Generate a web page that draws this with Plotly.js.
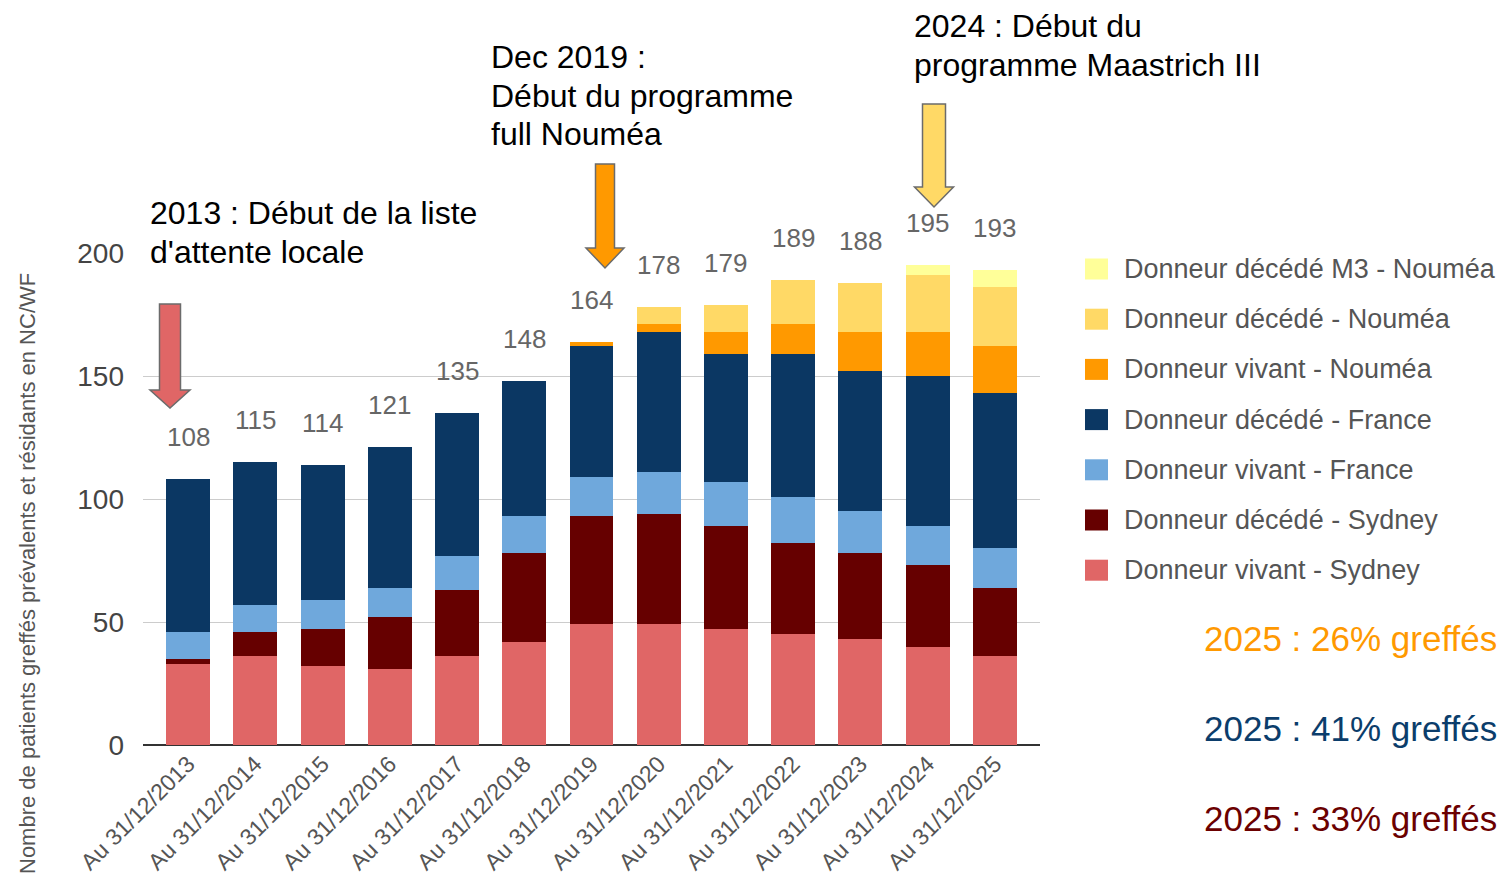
<!DOCTYPE html>
<html>
<head>
<meta charset="utf-8">
<script src="https://cdn.plot.ly/plotly-3.0.1.min.js"></script>
<style>html,body{margin:0;padding:0;background:#fff;}#chart{width:1502px;height:889px;}</style>
</head>
<body>
<div id="chart"></div>
<script>
// ---- Data ----
const categories = ['Au 31/12/2013','Au 31/12/2014','Au 31/12/2015','Au 31/12/2016','Au 31/12/2017','Au 31/12/2018','Au 31/12/2019','Au 31/12/2020','Au 31/12/2021','Au 31/12/2022','Au 31/12/2023','Au 31/12/2024','Au 31/12/2025'];
const vivantSydney   = [33, 36, 32, 31, 36, 42, 49, 49, 47, 45, 43, 40, 36];
const decedeSydney   = [ 2, 10, 15, 21, 27, 36, 44, 45, 42, 37, 35, 33, 28];
const vivantFrance   = [11, 11, 12, 12, 14, 15, 16, 17, 18, 19, 17, 16, 16];
const decedeFrance   = [62, 58, 55, 57, 58, 55, 53, 57, 52, 58, 57, 61, 63];
const vivantNoumea   = [ 0,  0,  0,  0,  0,  0,  2,  3,  9, 12, 16, 18, 19];
const decedeNoumea   = [ 0,  0,  0,  0,  0,  0,  0,  7, 11, 18, 20, 23, 24];
const decedeM3Noumea = [ 0,  0,  0,  0,  0,  0,  0,  0,  0,  0,  0,  4,  7];
const totals         = [108,115,114,121,135,148,164,178,179,189,188,195,193];
const seriesNames = ['Donneur vivant - Sydney','Donneur décédé - Sydney','Donneur vivant - France','Donneur décédé - France','Donneur vivant - Nouméa','Donneur décédé - Nouméa','Donneur décédé M3 - Nouméa'];
const seriesValues = [vivantSydney, decedeSydney, vivantFrance, decedeFrance, vivantNoumea, decedeNoumea, decedeM3Noumea];
const seriesColors = ['#e06666','#660000','#6fa8dc','#0b3763','#ff9900','#ffd966','#ffff99'];
const yAxisTitle = 'Nombre de patients greffés prévalents et résidants en NC/WF';
const events = [
  {lines:["2013 : Début de la liste", "d'attente locale"], color:'#e06666'},
  {lines:['Dec 2019 :', 'Début du programme', 'full Nouméa'], color:'#ff9900'},
  {lines:['2024 : Début du', 'programme Maastrich III'], color:'#ffd966'}
];
const summaryTexts = ['2025 : 26% greffés', '2025 : 41% greffés', '2025 : 33% greffés'];
const summaryColors = ['#ff9900', '#0b3d6b', '#6b0000'];

// ---- Layout helpers (pixel -> paper) ----
const W = 1502, H = 889;
const L = 143, R = 1040, T = 253, B = 745;
const px = x => (x - L) / (R - L);
const py = y => (B - y) / (B - T);
const FONT = 'Liberation Sans, Arial, Helvetica, sans-serif';

function arrowPath(cx, halfShaft, top, headY, halfHead, tip) {
  const pts = [[cx-halfShaft, top],[cx+halfShaft, top],[cx+halfShaft, headY],[cx+halfHead, headY],[cx, tip],[cx-halfHead, headY],[cx-halfShaft, headY]];
  return 'M' + pts.map(p => px(p[0]) + ',' + py(p[1])).join('L') + 'Z';
}

const traces = seriesValues.map((vals, i) => ({
  type: 'bar', name: seriesNames[i], x: categories, y: vals,
  marker: {color: seriesColors[i], line: {width: 0}},
  showlegend: false, hovertemplate: '%{x}<br>' + seriesNames[i] + ': %{y}<extra></extra>'
}));

const annotations = [];
const shapes = [];

// totals above bars
categories.forEach((c, i) => {
  annotations.push({x: c, y: totals[i], xref: 'x', yref: 'y', text: String(totals[i]), showarrow: false,
    yshift: 42, yanchor: 'middle', font: {family: FONT, size: 26, color: '#666666'}});
});

// y axis title
annotations.push({xref: 'paper', yref: 'paper', x: px(27), y: py(574), text: yAxisTitle, textangle: -90,
  showarrow: false, xanchor: 'center', yanchor: 'middle', font: {family: FONT, size: 22, color: '#555555'}});

// event annotations (one per line) + block arrows
const evPos = [{x:150, y:213}, {x:491, y:57}, {x:914, y:26}];
const lineStep = 38.5;
events.forEach((e, i) => {
  e.lines.forEach((ln, j) => {
    annotations.push({xref:'paper', yref:'paper', x: px(evPos[i].x - 2), y: py(evPos[i].y + j * lineStep), text: ln, align: 'left',
      showarrow: false, xanchor: 'left', yanchor: 'middle', font: {family: FONT, size: 32, color: '#000000'}});
  });
});
const arrowGeo = [[170, 10.5, 304, 390, 20, 408], [605, 9.5, 164, 248, 19, 268], [934, 11.5, 104, 187, 19.5, 207]];
arrowGeo.forEach((g, i) => {
  shapes.push({type: 'path', xref: 'paper', yref: 'paper', path: arrowPath(...g),
    fillcolor: events[i].color, line: {color: '#6b6b6b', width: 1.5}, layer: 'above'});
});

// manual legend (top to bottom = reverse stacking order)
const legY0 = 269, legStep = 50.2;
for (let k = 0; k < seriesNames.length; k++) {
  const i = seriesNames.length - 1 - k;
  const cy = legY0 + k * legStep;
  shapes.push({type: 'rect', xref: 'paper', yref: 'paper', x0: px(1085), x1: px(1108), y0: py(cy - 10.5), y1: py(cy + 10.5),
    fillcolor: seriesColors[i], line: {width: 0}, layer: 'above'});
  annotations.push({xref: 'paper', yref: 'paper', x: px(1122), y: py(cy), text: seriesNames[i], showarrow: false,
    xanchor: 'left', yanchor: 'middle', font: {family: FONT, size: 27, color: '#555555'}});
}

// summary texts
summaryTexts.forEach((t, i) => {
  annotations.push({xref: 'paper', yref: 'paper', x: px(1202), y: py(638 + i * 90), text: t, showarrow: false,
    xanchor: 'left', yanchor: 'middle', font: {family: FONT, size: 35, color: summaryColors[i]}});
});

const layout = {
  width: W, height: H,
  margin: {l: L, r: W - R, t: T, b: H - B, pad: 0},
  paper_bgcolor: '#ffffff', plot_bgcolor: '#ffffff',
  barmode: 'stack', bargap: 0.346,
  font: {family: FONT},
  xaxis: {type: 'category', categoryorder: 'array', categoryarray: categories, range: [-0.67, 12.67],
    tickangle: -45, tickfont: {family: FONT, size: 23, color: '#555555'}, showgrid: false, showline: false,
    ticks: '', fixedrange: true},
  yaxis: {range: [0, 200], dtick: 50, tick0: 0, showgrid: true, gridcolor: '#cccccc', gridwidth: 1,
    zeroline: true, zerolinecolor: '#333333', zerolinewidth: 2, showline: false, ticks: '',
    ticklabelstandoff: 18, tickfont: {family: FONT, size: 28, color: '#444444'}, fixedrange: true},
  annotations: annotations,
  shapes: shapes,
  showlegend: false
};

Plotly.newPlot('chart', traces, layout, {displayModeBar: false, staticPlot: true});
</script>
</body>
</html>
